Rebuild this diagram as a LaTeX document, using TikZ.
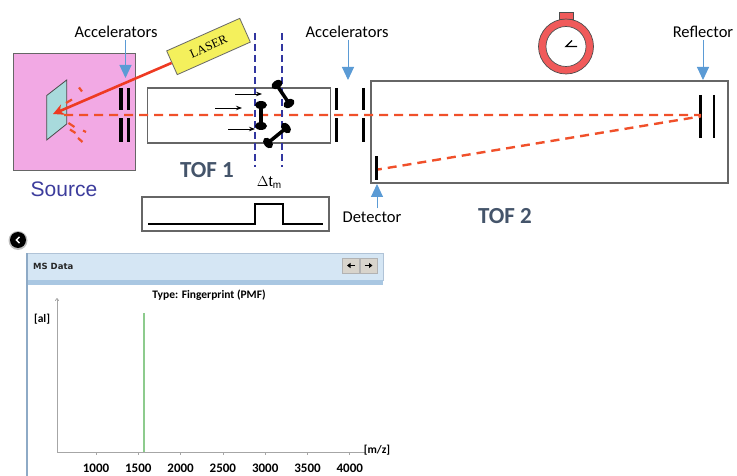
\documentclass[tikz,border=0pt]{standalone}
\usepackage{fontspec}
\setmainfont{Carlito}
\newfontfamily\arialf{Liberation Sans}
\newfontfamily\timesf{Liberation Serif}
\newfontfamily\tahomaf{DejaVu Sans}
\usetikzlibrary{arrows.meta}

\definecolor{beam}{HTML}{F0502A}
\definecolor{laserred}{HTML}{EE3A22}
\definecolor{pointer}{HTML}{5B9BD5}
\definecolor{gatecol}{HTML}{3236A0}
\definecolor{slate}{HTML}{44546A}
\definecolor{srcpink}{HTML}{F2A9E4}
\definecolor{plate}{HTML}{A8DADC}
\definecolor{laseryel}{HTML}{F4F05C}
\definecolor{watchred}{HTML}{F05A5A}
\definecolor{srctext}{HTML}{3C3C9C}
\definecolor{hdrblue}{HTML}{D5E6F4}
\definecolor{hdrband}{HTML}{A9C7E2}
\definecolor{panelline}{HTML}{8EAAC6}
\definecolor{btnfill}{HTML}{D8D4CC}
\definecolor{axisgray}{HTML}{A6A6A6}
\definecolor{peakgreen}{HTML}{8DCB8D}

\tikzset{
  srcbox/.style={draw=black!60, fill=srcpink, line width=0.8pt, inner sep=0pt},
  tube/.style={draw=black!60, line width=1.1pt, inner sep=0pt},
  laserbox/.style={draw=black!60, fill=laseryel, line width=0.8pt, inner sep=0pt,
    font=\timesf\fontsize{12.5}{13}\selectfont},
  bar/.style={line width=3.2pt, black},
  beamline/.style={beam, line width=2.4pt, dash pattern=on 9pt off 6pt},
  splash/.style={beam, line width=2.2pt},
  laserbeam/.style={laserred, line width=2.6pt, -{Stealth[length=11pt,width=11pt]}},
  pointarrow/.style={pointer, line width=1pt, -{Triangle[width=12pt,length=13pt]}},
  lbl/.style={font=\fontsize{16.5}{18}\selectfont, inner sep=0pt},
  tof/.style={font=\bfseries\fontsize{23}{25}\selectfont, text=slate, inner sep=0pt},
  gate/.style={gatecol, line width=1.4pt, dash pattern=on 7pt off 4pt},
  dumb/.style={line width=3.5pt, black},
  blob/.style={x radius=6, y radius=4},
  push/.style={black, line width=0.9pt, -{Stealth[length=6pt,width=4.5pt]}},
  pulse/.style={black, line width=1.5pt},
  axisline/.style={axisgray, line width=0.8pt},
  ticklbl/.style={font=\bfseries\fontsize{13}{14}\selectfont, inner sep=0pt},
  btn/.style={draw=black!30, fill=btnfill, minimum width=17pt, minimum height=15pt, inner sep=0pt},
  btnarrow/.style={black, line width=1.6pt, -{Triangle[length=3.5pt,width=5pt]}},
}

\begin{document}
\begin{tikzpicture}[x=1pt,y=-1pt]
\useasboundingbox (0,0) rectangle (737,476);

% ---------- ion source ----------
\node[srcbox, minimum width=122pt, minimum height=117pt] (source) at (74,111.5) {};
\node[font=\arialf\fontsize{21}{23}\selectfont, text=srctext, inner sep=0pt] (srclbl) at (64,189) {Source};
% sample plate
\draw[draw=black!70, fill=plate, line width=0.8pt]
  (46.7,95.5) -- (66.7,80) -- (66.7,124) -- (46.7,140) -- cycle;
\coordinate (hit) at (53,114);
% desorbed plume
\draw[splash] (79,87.5) -- (82,91.5);
\draw[splash] (66,103) -- (72,99.5);
\draw[splash] (68.5,123) -- (74.5,127);
\draw[splash] (70,129.5) -- (75.5,133);
\draw[splash] (83,130.5) -- (86,132);
\draw[splash] (78,138) -- (82.5,142);

% ---------- laser ----------
\node[laserbox, rotate=24, minimum width=80pt, minimum height=26pt] (laser) at (208.5,46.5) {LASER};
\draw[laserbeam] (laser.west) -- (hit);

% ---------- first accelerator ----------
\draw[bar] (121,88) -- (121,110.5);
\draw[bar] (121,118.5) -- (121,142);
\draw[bar] (128.3,88) -- (128.3,110.5);
\draw[bar] (128.3,118.5) -- (128.3,142);
\node[lbl] (acc1) at (116,32) {Accelerators};
\coordinate (acc1tip) at (125.5,78);
\draw[pointarrow] (acc1tip |- acc1.south) ++(0,2) -- (acc1tip);

% ---------- TOF 1 ----------
\node[tube, minimum width=183pt, minimum height=55pt] (tof1) at (239,115.5) {};
\node[tof] (tof1lbl) at (207,170) {TOF 1};

% ---------- second accelerator ----------
\draw[bar] (336.7,88) -- (336.7,110.5);
\draw[bar] (336.7,118.5) -- (336.7,142);
\draw[bar] (363.3,88) -- (363.3,110.5);
\draw[bar] (363.3,118.5) -- (363.3,142);
\node[lbl] (acc2) at (347,32) {Accelerators};
\coordinate (acc2tip) at (348,80);
\draw[pointarrow] (acc2tip |- acc2.south) ++(0,2) -- (acc2tip);

% ---------- TOF 2 (reflectron) ----------
\node[tube, minimum width=357pt, minimum height=102pt] (tof2) at (549.5,132) {};
\node[tof] (tof2lbl) at (505,216.5) {TOF 2};
% reflector
\draw[line width=2.8pt] (700.7,95) -- (700.7,138.3);
\draw[line width=2.8pt] (714,95) -- (714,138.3);
\coordinate (turn) at (700,116.5);
\node[lbl] (refllbl) at (703,32) {Reflector};
\coordinate (refltip) at (703,80);
\draw[pointarrow] (refltip |- refllbl.south) ++(0,2) -- (refltip);
% detector
\draw[bar] (376.7,156.5) -- (376.7,180);
\coordinate (dethit) at (378,169.5);
\node[lbl] (detlbl) at (372,217) {Detector};
\coordinate (dettip) at (377,184);
\draw[pointarrow] (dettip |- detlbl.north) ++(0,-3) -- (dettip);

% ---------- ion flight path ----------
\coordinate (beamstart) at (64,115);
\draw[beamline] (beamstart) -- (turn |- beamstart) -- (turn) -- (dethit);

% ---------- timing gate ----------
\draw[gate] (255,33) -- (255,167);
\draw[gate] (282,33) -- (282,167);
\node[font=\arialf\fontsize{15}{16}\selectfont, inner sep=0pt] (dtlbl) at (269,183)
  {$\Delta$t\raisebox{-2pt}{\fontsize{10}{10}\selectfont m}};

% drifting ions
\draw[push] (215,108) -- (242,108);
\draw[push] (235,94) -- (262,94);
\draw[push] (228,129) -- (255,129);
% dumbbell ions
\draw[dumb] (261,106) -- (261,125);
\fill (261,105) ellipse [blob];
\fill (261,126) ellipse [blob];
\draw[dumb] (277,85.5) -- (288.5,102.5);
\begin{scope}[shift={(277,84.5)}, rotate=34] \fill (0,0) ellipse [blob]; \end{scope}
\begin{scope}[shift={(289,103.5)}, rotate=34] \fill (0,0) ellipse [blob]; \end{scope}
\draw[dumb] (269,142) -- (285,129);
\begin{scope}[shift={(268,143)}, rotate=-51] \fill (0,0) ellipse [blob]; \end{scope}
\begin{scope}[shift={(286,128)}, rotate=-51] \fill (0,0) ellipse [blob]; \end{scope}

% ---------- detector pulse ----------
\node[tube, minimum width=187pt, minimum height=34pt] (pulsebox) at (235.5,214) {};
\draw[pulse] (148,224) -- (255,224) -- (255,204) -- (283,204) -- (283,224) -- (323,224);

% ---------- stopwatch ----------
\fill[watchred, draw=black!70, line width=0.7pt] (559,12) rectangle (573,19.5);
\fill[watchred, draw=black!70, line width=0.7pt] (566,46.5) circle [radius=27.5];
\fill[white, draw=black!70, line width=0.7pt] (566,46.5) circle [radius=20];
\draw[black, line width=1.4pt] (572,40.5) -- (566,46.5) -- (577,46.5);

% ---------- back button ----------
\fill[black!25] (18,240.5) circle [radius=9.5];
\fill[black] (18,240) circle [radius=8];
\draw[white, line width=1.4pt] (19.5,236.8) -- (16.3,240) -- (19.5,243.2);

% ---------- spectrum panel ----------
\node[draw=panelline!70, fill=hdrblue, line width=0.6pt, minimum width=356pt, minimum height=27pt,
  anchor=north west, inner sep=0pt] (msbar) at (27,253) {};
\fill[hdrband] (27,280) rectangle (383,285);
\draw[panelline, line width=1.6pt] (27,253) -- (27,476);
\node[font=\tahomaf\bfseries\fontsize{8.5}{10}\selectfont, anchor=west, inner sep=0pt, text=black!85]
  (mstitle) at (33,266.5) {MS Data};
\node[btn] (prevbtn) at (351,265.5) {};
\node[btn] (nextbtn) at (368.5,265.5) {};
\draw[btnarrow] ([xshift=4pt]prevbtn.center) -- ([xshift=-4pt]prevbtn.center);
\draw[btnarrow] ([xshift=-4pt]nextbtn.center) -- ([xshift=4pt]nextbtn.center);

\node[font=\bfseries\fontsize{11.5}{12}\selectfont, inner sep=0pt] (plottitle) at (209,295.5)
  {Type: Fingerprint (PMF)};
\coordinate (origin) at (57,452);
\coordinate (ytop) at (57,298);
\coordinate (xend) at (365,452);
\draw[axisline, -{To[length=3pt,width=4pt]}] (origin) -- (ytop);
\draw[axisline] (origin) -- (xend);
\node[font=\bfseries\fontsize{11.5}{12}\selectfont, inner sep=0pt] (ylbl) at (42,319.5) {[al]};
\node[font=\bfseries\fontsize{11.5}{12}\selectfont, inner sep=0pt] (xlbl) at (377,450) {[m/z]};
\foreach \v/\xx in {1000/96, 1500/138.3, 2000/180.6, 2500/222.9, 3000/265.2, 3500/307.5, 4000/349.8}{
  \node[ticklbl] (tick\v) at (\xx,468) {\v};
  \draw[axisline] (\xx,452) -- (\xx,455);
}
\coordinate (peakbase) at (144.3,452);
\coordinate (peaktop) at (144.3,312.7);
\draw[peakgreen, line width=1.8pt] (peakbase) -- (peaktop);
\end{tikzpicture}
\end{document}
